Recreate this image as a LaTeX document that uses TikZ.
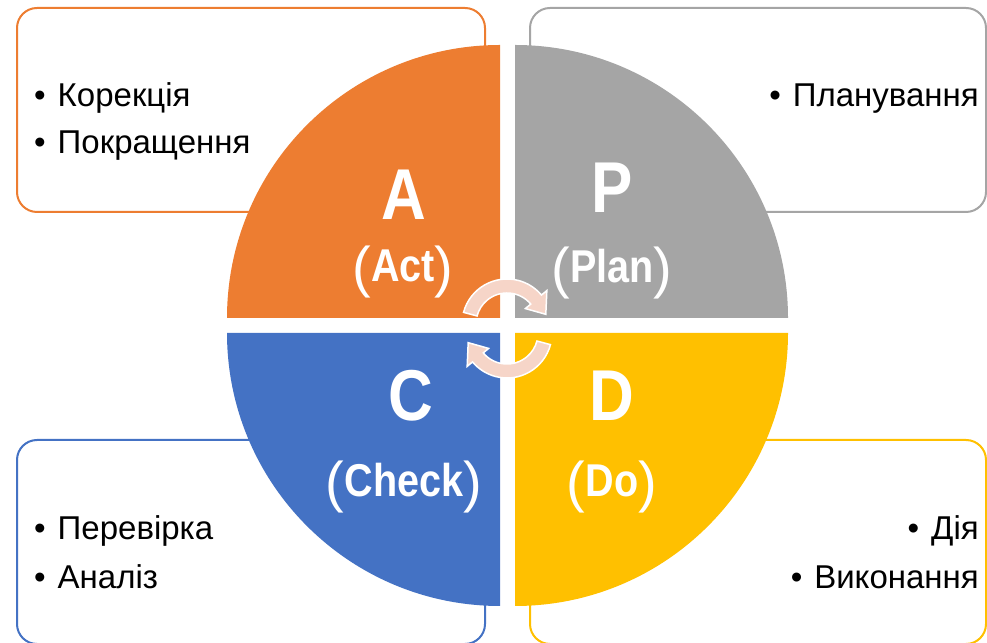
\documentclass[tikz,border=0pt]{standalone}
\usepackage{fontspec}
\setmainfont{Liberation Sans}
\newfontfamily\narrowfont[FakeStretch=0.86]{Liberation Sans}
\definecolor{act_orange}{HTML}{ED7D31}
\definecolor{plan_gray}{HTML}{A5A5A5}
\definecolor{check_blue}{HTML}{4472C4}
\definecolor{do_yellow}{HTML}{FFC000}
\definecolor{arrow_pink}{HTML}{F6D5C8}
\tikzstyle{box} = [rectangle, rounded corners=20pt, line width=2pt, fill=white,
                   minimum height=204pt, inner sep=0pt]
\tikzstyle{item} = [inner sep=0pt, font=\fontsize{33}{33}\selectfont]
\tikzstyle{letter} = [inner sep=0pt, text=white, font=\narrowfont\fontsize{72}{72}\selectfont\bfseries]
\tikzstyle{word} = [inner sep=0pt, text=white, font=\narrowfont\fontsize{46}{46}\selectfont\bfseries]
\tikzstyle{turn} = [fill=arrow_pink, draw=white, line width=1.5pt]
\newcommand{\openpar}{{\rmfamily\fontsize{56}{56}\selectfont\mdseries\raisebox{-5pt}{(}}}
\newcommand{\closepar}{{\rmfamily\fontsize{56}{56}\selectfont\mdseries\raisebox{-5pt}{)}}}

\begin{document}
\begin{tikzpicture}[x=1pt, y=1pt]

    \useasboundingbox (0,0) rectangle (987,642);

    % corner boxes
    \node[box, draw=act_orange, minimum width=468pt] (actbox) at (251,532) {};
    \node[box, draw=plan_gray, minimum width=456pt] (planbox) at (758,532) {};
    \node[box, draw=check_blue, minimum width=468pt] (checkbox) at (251,100) {};
    \node[box, draw=do_yellow, minimum width=456pt] (dobox) at (758,100) {};

    \node[item, anchor=base west] (act1) at (34,535) {•\hspace{12pt}Корекція};
    \node[item, anchor=base west] (act2) at (34,488) {•\hspace{12pt}Покращення};
    \node[item, anchor=base east] (plan1) at (979,535) {•\hspace{12pt}Планування};
    \node[item, anchor=base west] (check1) at (34,102) {•\hspace{12pt}Перевірка};
    \node[item, anchor=base west] (check2) at (34,53) {•\hspace{12pt}Аналіз};
    \node[item, anchor=base east] (do1) at (979,102) {•\hspace{12pt}Дія};
    \node[item, anchor=base east] (do2) at (979,53) {•\hspace{12pt}Виконання};

    % quarters of the circle
    \fill[act_orange] (500,324) -- ++(90:273) arc[start angle=90, end angle=180, radius=273] -- cycle;
    \fill[plan_gray] (515,324) -- ++(0:273) arc[start angle=0, end angle=90, radius=273] -- cycle;
    \fill[check_blue] (500,309) -- ++(180:273) arc[start angle=180, end angle=270, radius=273] -- cycle;
    \fill[do_yellow] (515,309) -- ++(270:273) arc[start angle=270, end angle=360, radius=273] -- cycle;

    \node[letter, anchor=base] (a) at (404,422) {A};
    \node[word, anchor=base] (act) at (403,360) {\openpar Act\closepar};
    \node[letter, anchor=base] (p) at (612,429) {P};
    \node[word, anchor=base] (plan) at (612,359) {\openpar Plan\closepar};
    \node[letter, anchor=base] (c) at (411,221) {C};
    \node[word, anchor=base] (check) at (404,145) {\openpar Check\closepar};
    \node[letter, anchor=base] (d) at (612,221) {D};
    \node[word, anchor=base] (do) at (612,145) {\openpar Do\closepar};

    % turning arrows in the middle
    \begin{scope}[shift={(507,318)}]
        \filldraw[turn] (165:45) arc[start angle=165, end angle=40, radius=45] -- (40:52) -- (14:40)
            -- (40:24) -- (40:31) arc[start angle=40, end angle=165, radius=31] -- cycle;
    \end{scope}
    \begin{scope}[shift={(507,309)}]
        \filldraw[turn] (345:45) arc[start angle=345, end angle=220, radius=45] -- (220:52) -- (194:40)
            -- (220:24) -- (220:31) arc[start angle=220, end angle=345, radius=31] -- cycle;
    \end{scope}

\end{tikzpicture}
\end{document}
